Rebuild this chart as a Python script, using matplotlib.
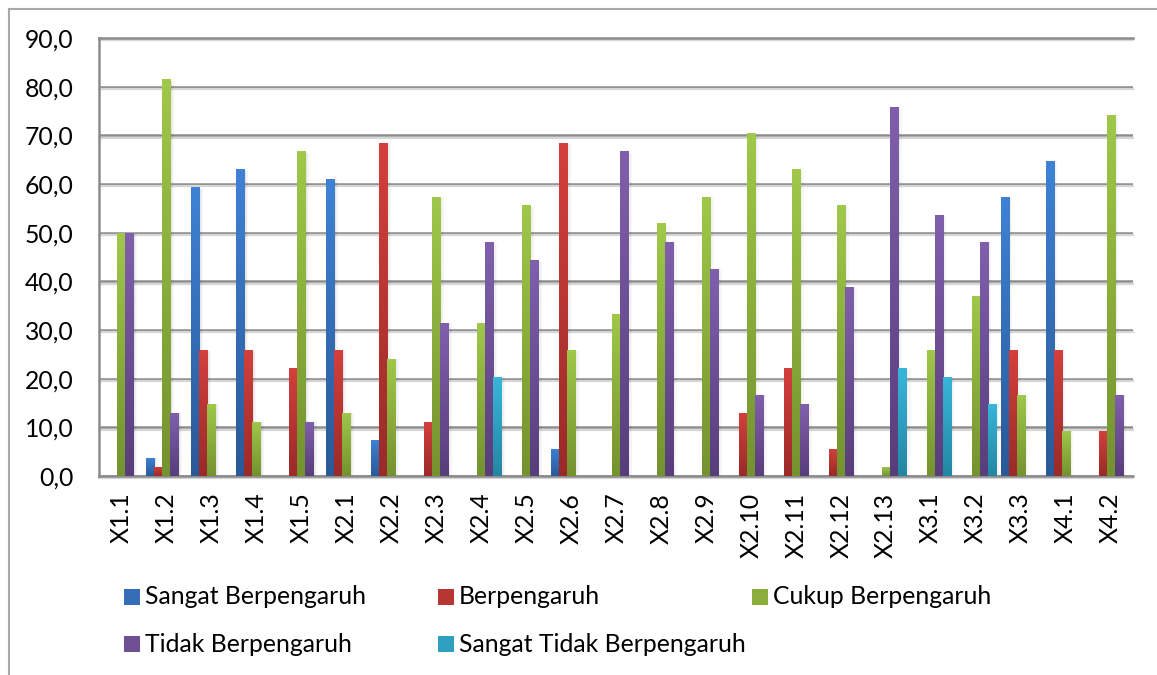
import numpy as np
import matplotlib
matplotlib.use("Agg")
import matplotlib.pyplot as plt
from matplotlib.colors import LinearSegmentedColormap
from matplotlib.patches import Rectangle
from matplotlib.lines import Line2D
from matplotlib.ticker import FuncFormatter, MultipleLocator
import matplotlib.transforms as mtransforms

categories = ["X1.1", "X1.2", "X1.3", "X1.4", "X1.5", "X2.1", "X2.2", "X2.3",
              "X2.4", "X2.5", "X2.6", "X2.7", "X2.8", "X2.9", "X2.10", "X2.11",
              "X2.12", "X2.13", "X3.1", "X3.2", "X3.3", "X4.1", "X4.2"]

series_names = ["Sangat Berpengaruh", "Berpengaruh", "Cukup Berpengaruh",
                "Tidak Berpengaruh", "Sangat Tidak Berpengaruh"]

sangat_berpengaruh = [0, 3.7, 59.3, 63.0, 0, 61.1, 7.4, 0, 0, 0, 5.6, 0,
                      0, 0, 0, 0, 0, 0, 0, 0, 57.4, 64.8, 0]
berpengaruh = [0, 1.9, 25.9, 25.9, 22.2, 25.9, 68.5, 11.1, 0, 0, 68.5, 0,
               0, 0, 13.0, 22.2, 5.6, 0, 0, 0, 25.9, 25.9, 9.3]
cukup_berpengaruh = [50.0, 81.5, 14.8, 11.1, 66.7, 13.0, 24.1, 57.4, 31.5, 55.6,
                     25.9, 33.3, 51.9, 57.4, 70.4, 63.0, 55.6, 1.9, 25.9, 37.0,
                     16.7, 9.3, 74.1]
tidak_berpengaruh = [50.0, 13.0, 0, 0, 11.1, 0, 0, 31.5, 48.1, 44.4, 0, 66.7,
                     48.1, 42.6, 16.7, 14.8, 38.9, 75.9, 53.7, 48.1, 0, 0, 16.7]
sangat_tidak_berpengaruh = [0, 0, 0, 0, 0, 0, 0, 0, 20.4, 0, 0, 0, 0, 0, 0, 0,
                            0, 22.2, 20.4, 14.8, 0, 0, 0]

series_values = [sangat_berpengaruh, berpengaruh, cukup_berpengaruh,
                 tidak_berpengaruh, sangat_tidak_berpengaruh]

top_colors = ["#3F82D5", "#D4403D", "#A0C84A", "#8060AD", "#38B7DB"]
bottom_colors = ["#2A5997", "#9A2A28", "#74922E", "#583D7B", "#2386A2"]

W, H = 1157, 675
FS = 17.8
plt.rcParams["font.family"] = ["Lato", "DejaVu Sans"]
fig = plt.figure(figsize=(W / 100, H / 100), dpi=100)
fig.patch.set_facecolor("white")

ax = fig.add_axes([99 / W, 1 - 476 / H, (1133 - 99) / W, (476 - 38) / H])

bar_w = 0.178
xpos = np.arange(len(categories))
grad = np.linspace(0, 1, 256).reshape(-1, 1)

for i, (vals, c_top, c_bot) in enumerate(zip(series_values, top_colors, bottom_colors)):
    cmap = LinearSegmentedColormap.from_list(f"grad{i}", [c_bot, c_top])
    offset = (i - 2) * bar_w
    bars = ax.bar(xpos + offset, vals, width=bar_w, color=c_top, linewidth=0, zorder=3)
    for rect, v in zip(bars, vals):
        if v <= 0:
            continue
        x0 = rect.get_x()
        x1 = x0 + rect.get_width()
        # soft shadow on the right side of each bar
        for k, a in enumerate([0.10, 0.06, 0.03]):
            ax.add_patch(Rectangle((x1 + k * 0.028, 0), 0.028, v * 0.995,
                                   facecolor="black", alpha=a, linewidth=0, zorder=2.5))
        im = ax.imshow(grad, extent=(x0, x1, 0, v), origin="lower", cmap=cmap,
                       aspect="auto", interpolation="bilinear", zorder=3.5)
        im.set_clip_path(rect)

ax.set_xlim(-0.5, len(categories) - 0.5)
ax.set_ylim(0, 90)

# gridlines with a light shadow underneath
ax.yaxis.set_major_locator(MultipleLocator(10))
ax.yaxis.grid(True, color="#8C8C8C", linewidth=1.8, zorder=1)
ax.set_axisbelow(True)
shadow_tr = ax.get_yaxis_transform() + mtransforms.ScaledTranslation(0, -2.2 / 100, fig.dpi_scale_trans)
for yv in range(0, 91, 10):
    ax.plot([0, 1], [yv, yv], transform=shadow_tr, color="#D6D6D6", linewidth=1.6,
            zorder=0.9, clip_on=False)

ax.spines["right"].set_visible(False)
for side in ["left", "bottom", "top"]:
    ax.spines[side].set_color("#8C8C8C")
    ax.spines[side].set_linewidth(1.8)

ax.yaxis.set_major_formatter(FuncFormatter(lambda v, p: f"{v:.1f}".replace(".", ",")))
ax.set_xticks(xpos)
ax.set_xticklabels(categories, rotation=90, va="top", ha="center")
ax.tick_params(axis="y", length=0, pad=18.5, labelsize=FS, colors="black")
ax.tick_params(axis="x", length=0, pad=12, labelsize=FS, colors="black")

# outer chart frame
fig.add_artist(Line2D([9 / W, 9 / W], [0, 1 - 9 / H], transform=fig.transFigure,
                      color="#A8A8A8", linewidth=1.5))
fig.add_artist(Line2D([9 / W, 1], [1 - 9 / H, 1 - 9 / H], transform=fig.transFigure,
                      color="#A8A8A8", linewidth=1.5))

# legend laid out in rows of three
legend_x = [124, 438, 752]
legend_y = [597, 644]
for idx, name in enumerate(series_names):
    lx = legend_x[idx % 3]
    ly = legend_y[idx // 3]
    mid = np.mean([matplotlib.colors.to_rgb(top_colors[idx]),
                   matplotlib.colors.to_rgb(bottom_colors[idx])], axis=0)
    fig.add_artist(Rectangle((lx / W, 1 - (ly + 8) / H), 16 / W, 16 / H,
                             transform=fig.transFigure, facecolor=mid, linewidth=0))
    fig.text((lx + 21) / W, 1 - ly / H, name, fontsize=FS, va="center", ha="left",
             color="black")

fig.savefig("out.png", dpi=100)
